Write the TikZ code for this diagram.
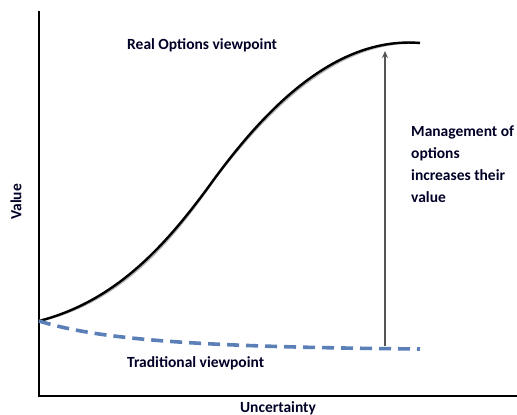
\documentclass[tikz,border=0pt]{standalone}
\usepackage{fontspec}
\setmainfont{Carlito}
\usetikzlibrary{arrows.meta}
\definecolor{dashblue}{HTML}{5B80B8}
\definecolor{arrowgray}{HTML}{555555}
\tikzset{
  lbl/.style={font=\bfseries\fontsize{15.5}{22}\selectfont, text=black!85!blue, inner sep=0pt},
  axis/.style={line width=2.2pt, black},
  realcurve/.style={line width=2.4pt, black},
  shadowcurve/.style={line width=2.4pt, black!30},
  tradcurve/.style={line width=3.6pt, dashblue, dash pattern=on 12pt off 7pt},
  mgmt/.style={line width=1.2pt, arrowgray, -{Stealth[length=7pt,width=6pt,open]}}
}
\begin{document}
\begin{tikzpicture}[x=1pt,y=-1pt]
\useasboundingbox (0,0) rectangle (517,415);
\coordinate (top) at (39,11);
\coordinate (origin) at (39,396);
\coordinate (right) at (517,396);
\coordinate (start) at (39,321);
\coordinate (mid) at (215,178);
\coordinate (realend) at (420,43);
\coordinate (tradend) at (420,349);
\coordinate (arrowbase) at (385,346);
\coordinate (arrowtip) at (385,51);
% axes
\draw[axis] (top) -- (origin) -- (right);
% real options curve (shadow + line)
\draw[shadowcurve, shift={(1.2,1.6)}] (start) .. controls (120,300) and (170,240) .. (mid) .. controls (265,110) and (335,36) .. (realend);
\draw[realcurve] (start) .. controls (120,300) and (170,240) .. (mid) .. controls (265,110) and (335,36) .. (realend);
% traditional curve
\draw[tradcurve] (start) .. controls (100,340) and (200,347) .. (tradend);
% arrow
\draw[mgmt] (arrowbase) -- (arrowtip);
% labels
\node[lbl, anchor=west] (real) at (127,45) {Real Options viewpoint};
\node[lbl, anchor=west] (trad) at (127,363) {Traditional viewpoint};
\node[lbl, anchor=north west, align=left] (mg) at (411,126) {Management of\\options\\increases their\\value};
\node[lbl, rotate=90] (val) at (16,202) {Value};
\node[lbl] (unc) at (278,408) {Uncertainty};
\end{tikzpicture}
\end{document}
